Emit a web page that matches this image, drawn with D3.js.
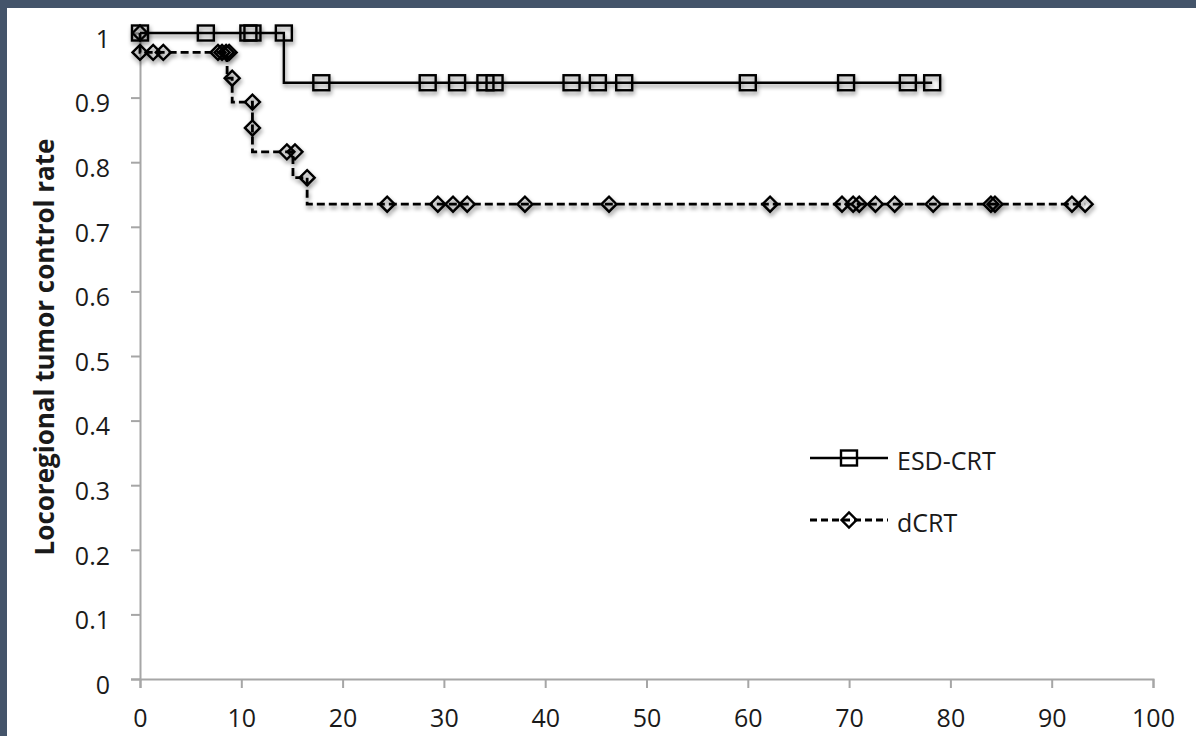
<!DOCTYPE html>
<html>
<head>
<meta charset="utf-8">
<script src="https://cdn.jsdelivr.net/npm/d3@7"></script>
<style>
  body { margin: 0; background: #44546a; }
  svg { display: block; }
</style>
</head>
<body>
<div id="chart_area"></div>
<script>
// data
const xTicks = [0, 10, 20, 30, 40, 50, 60, 70, 80, 90, 100];
const yTicks = [0, 0.1, 0.2, 0.3, 0.4, 0.5, 0.6, 0.7, 0.8, 0.9, 1];
const yTitle = 'Locoregional tumor control rate';
const seriesNames = ['ESD-CRT', 'dCRT'];

// step lines
const esdStepT = [0, 14.2, 14.2, 78.2];
const esdStepS = [1, 1, 0.923, 0.923];
const dcrtStepT = [0, 0, 8.6, 8.6, 9.1, 9.1, 11.1, 11.1, 15.1, 15.1, 16.5, 16.5, 93.3];
const dcrtStepS = [1, 0.97, 0.97, 0.93, 0.93, 0.893, 0.893, 0.816, 0.816, 0.776, 0.776, 0.735, 0.735];

// markers
const esdMarkT = [0, 6.5, 10.7, 11.1, 14.2, 17.9, 28.4, 31.3, 34.1, 35.0, 42.6, 45.2, 47.8, 60.0, 69.7, 75.8, 78.2];
const esdMarkS = [1, 1, 1, 1, 1, 0.923, 0.923, 0.923, 0.923, 0.923, 0.923, 0.923, 0.923, 0.923, 0.923, 0.923, 0.923];
const dcrtMarkT = [0, 0, 1.3, 2.3, 7.7, 8.1, 8.5, 8.8, 9.1, 11.1, 11.1, 14.5, 15.3, 16.5,
  24.4, 29.4, 30.9, 32.3, 38.0, 46.3, 62.2, 69.3, 70.4, 71.0, 72.6, 74.5, 78.3, 84.0, 84.4, 92.0, 93.3];
const dcrtMarkS = [1, 0.97, 0.97, 0.97, 0.97, 0.97, 0.97, 0.97, 0.93, 0.893, 0.853, 0.816, 0.816, 0.776,
  0.735, 0.735, 0.735, 0.735, 0.735, 0.735, 0.735, 0.735, 0.735, 0.735, 0.735, 0.735, 0.735, 0.735, 0.735, 0.735, 0.735];

const width = 1196;
const height = 736;
const font = "'Open Sans', 'Liberation Sans', sans-serif";

const svg = d3
  .select('#chart_area')
  .append('svg')
  .attr('width', width)
  .attr('height', height);

const defs = svg.append('defs');
const shadow = defs.append('filter').attr('id', 'shadow')
  .attr('x', '-50%').attr('y', '-50%').attr('width', '200%').attr('height', '200%');
shadow.append('feDropShadow')
  .attr('dx', 1).attr('dy', 3).attr('stdDeviation', 2)
  .attr('flood-color', '#000').attr('flood-opacity', 0.45);

// white panel inside the dark frame
svg.append('rect')
  .attr('x', 7).attr('y', 8)
  .attr('width', width - 7).attr('height', height - 8)
  .attr('fill', '#ffffff');

const x = d3.scaleLinear().domain([0, 100]).range([140, 1153]);
const y = d3.scaleLinear().domain([0, 1]).range([679, 33]);

function drawAxes() {
  const yAxis = svg.append('g')
    .attr('transform', 'translate(' + x(0) + ',0)')
    .call(d3.axisLeft(y).tickValues(yTicks).tickSize(9).tickPadding(21)
      .tickFormat((d) => String(d)));
  const xAxis = svg.append('g')
    .attr('transform', 'translate(0,' + y(0) + ')')
    .call(d3.axisBottom(x).tickValues(xTicks).tickSize(9).tickPadding(21));

  [yAxis, xAxis].forEach((ax) => {
    ax.select('.domain').attr('stroke', '#a6a6a6').attr('stroke-width', 2);
    ax.selectAll('.tick line').attr('stroke', '#a6a6a6').attr('stroke-width', 2);
    ax.selectAll('.tick text')
      .attr('fill', '#1a1a1a')
      .style('font-family', font)
      .style('font-size', '25px');
  });
  yAxis.selectAll('.tick text').attr('dy', '0.57em');

  svg.append('text')
    .attr('transform', 'translate(54,' + 347 + ') rotate(-90)')
    .attr('text-anchor', 'middle')
    .style('font-family', font)
    .style('font-size', '26px')
    .style('font-weight', 'bold')
    .attr('fill', '#1a1a1a')
    .text(yTitle);
}

function squareAt(g, cx, cy) {
  g.append('rect')
    .attr('x', cx - 8).attr('y', cy - 7.5)
    .attr('width', 16).attr('height', 15)
    .attr('fill', 'none').attr('stroke', '#000').attr('stroke-width', 2.4);
}

function diamondAt(g, cx, cy) {
  g.append('path')
    .attr('d', 'M' + (cx - 7.5) + ',' + cy + 'L' + cx + ',' + (cy - 7.5) +
      'L' + (cx + 7.5) + ',' + cy + 'L' + cx + ',' + (cy + 7.5) + 'Z')
    .attr('fill', 'none').attr('stroke', '#000').attr('stroke-width', 2.4);
}

function drawSeries(stepT, stepS, markT, markS, dashed, marker) {
  const g = svg.append('g').attr('filter', 'url(#shadow)');
  const line = d3.line().x((d) => x(d[0])).y((d) => y(d[1]));
  g.append('path')
    .attr('d', line(stepT.map((t, i) => [t, stepS[i]])))
    .attr('fill', 'none')
    .attr('stroke', '#000')
    .attr('stroke-width', dashed ? 2.8 : 2.4)
    .attr('stroke-dasharray', dashed ? '8,4' : null);
  markT.forEach((t, i) => marker(g, x(t), y(markS[i])));
}

function drawLegend() {
  const rows = [
    { name: seriesNames[0], y: 458, dashed: false, marker: squareAt },
    { name: seriesNames[1], y: 520, dashed: true, marker: diamondAt }
  ];
  rows.forEach((row) => {
    const g = svg.append('g');
    g.append('line')
      .attr('x1', 810).attr('x2', 888)
      .attr('y1', row.y).attr('y2', row.y)
      .attr('stroke', '#000').attr('stroke-width', row.dashed ? 2.8 : 2.4)
      .attr('stroke-dasharray', row.dashed ? '7,4' : null);
    row.marker(g, 849, row.y);
    g.append('text')
      .attr('x', 897).attr('y', row.y + 12)
      .style('font-family', font)
      .style('font-size', '25px')
      .attr('fill', '#1a1a1a')
      .text(row.name);
  });
}

drawAxes();
drawSeries(esdStepT, esdStepS, esdMarkT, esdMarkS, false, squareAt);
drawSeries(dcrtStepT, dcrtStepS, dcrtMarkT, dcrtMarkS, true, diamondAt);
drawLegend();
</script>
</body>
</html>
